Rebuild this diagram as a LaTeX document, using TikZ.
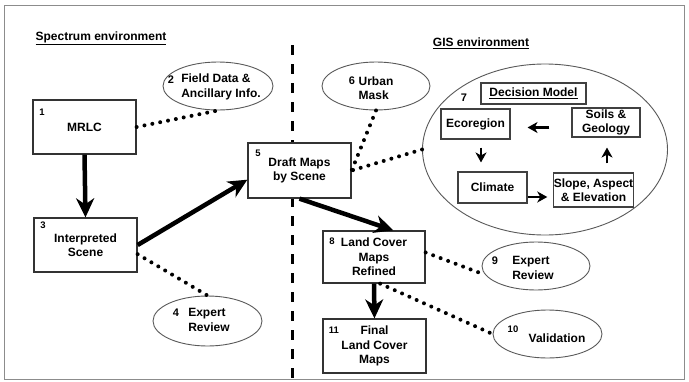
\documentclass[tikz,border=0pt]{standalone}
\usepackage{fontspec}
\setmainfont{Liberation Sans}
\usetikzlibrary{arrows.meta,shapes.geometric,calc}
\begin{document}
\begin{tikzpicture}[x=1pt,y=-1pt,
  font=\bfseries\fontsize{12}{14.5}\selectfont,
  box/.style={draw=black!80,line width=1.3pt,fill=white,inner sep=0pt,align=center},
  ibox/.style={draw=black!75,line width=1.1pt,fill=white,inner sep=0pt,align=center},
  oval/.style={ellipse,draw=black!65,line width=0.9pt,fill=white,inner sep=0pt},
  num/.style={font=\bfseries\fontsize{9.5}{10}\selectfont,inner sep=0pt},
  onum/.style={font=\bfseries\fontsize{11}{12}\selectfont,inner sep=0pt},
  txt/.style={inner sep=0pt,align=left},
  bigarr/.style={line width=4.5pt,-{Stealth[length=19pt,width=18pt,inset=6pt]}},
  smallarr/.style={line width=2.5pt,-{Stealth[length=10pt,width=11pt,inset=3pt]}},
  dots/.style={line width=4pt,line cap=round,dash pattern=on 0pt off 8pt},
  divider/.style={line width=2.8pt,dash pattern=on 10pt off 9pt},
]
\useasboundingbox (0,0) rectangle (689,381);
\draw[black!45,line width=1pt] (4,5) rectangle (684,379);

% headings
\node[inner sep=0pt] (hs) at (101,38) {\underline{Spectrum environment}};
\node[inner sep=0pt] (hg) at (481,43) {\underline{GIS environment}};

% divider
\coordinate (dtop) at (292.5,45);
\coordinate (dbot) at (292.5,381);
\draw[divider] (dtop) -- (dbot);

% boxes
\node[box,minimum width=103pt,minimum height=54pt] (mrlc) at (84.5,127) {MRLC};
\node[num] (n1) at (42,112) {1};
\node[box,minimum width=103pt,minimum height=54pt] (interp) at (85.5,245) {Interpreted\\Scene};
\node[num] (n3) at (43,225) {3};
\node[box,minimum width=103pt,minimum height=55pt] (draft) at (299.5,170.5) {Draft Maps\\by Scene};
\node[num] (n5) at (258,153) {5};
\node[box,minimum width=102pt,minimum height=52pt] (lc8) at (374,257) {Land Cover\\Maps\\Refined};
\node[num] (n8) at (332,241) {8};
\node[box,minimum width=103pt,minimum height=54pt] (fin) at (374.5,346) {Final\\Land Cover\\Maps};
\node[num] (n11) at (334,330) {11};

% ellipses
\node[oval,minimum width=110pt,minimum height=48pt] (e2) at (218,86) {};
\node[txt] (t2) at (221,87) {Field Data \&\\Ancillary Info.};
\node[onum] (n2) at (171,80) {2};

\node[oval,minimum width=109pt,minimum height=50pt] (e4) at (207.5,321) {};
\node[txt] (t4) at (209,320) {Expert\\Review};
\node[onum] (n4) at (176,313) {4};

\node[oval,minimum width=108pt,minimum height=48pt] (e6) at (376,86) {};
\node[txt] (t6) at (376,88) {Urban\\Mask};
\node[onum] (n6) at (352,81) {6};

\node[oval,minimum width=108pt,minimum height=48pt] (e9) at (536,266) {};
\node[txt] (t9) at (533,268) {Expert\\Review};
\node[onum] (n9) at (495,261) {9};

\node[oval,minimum width=109pt,minimum height=48pt] (e10) at (547.5,334) {};
\node[txt] (t10) at (557,338) {Validation};
\node[num] (n10) at (513,329) {10};

% decision model ellipse
\node[oval,minimum width=245pt,minimum height=171pt] (e7) at (545,149.5) {};
\node[onum] (n7) at (464,98) {7};
\node[ibox,minimum width=105pt,minimum height=21pt] (dm) at (533.5,93.5) {\underline{Decision Model}};
\node[ibox,minimum width=69pt,minimum height=30pt] (eco) at (475.5,124) {Ecoregion};
\node[ibox,minimum width=68pt,minimum height=29pt,font=\bfseries\fontsize{12}{14}\selectfont] (soils) at (606,122.5) {Soils \&\\Geology};
\node[ibox,minimum width=69pt,minimum height=31pt] (climate) at (492.5,187.5) {Climate};
\node[ibox,minimum width=79pt,minimum height=34pt,font=\bfseries\fontsize{12}{14}\selectfont] (slope) at (593.5,190) {Slope, Aspect\\\& Elevation};

% inner arrows
\draw[smallarr,shorten <=22pt,shorten >=17pt] ([yshift=-5pt]soils.west) -- ([yshift=-5pt]soils.west -| eco.east);
\draw[smallarr,shorten <=8pt,shorten >=9pt] ([xshift=5.5pt]eco.south) -- ([xshift=5.5pt]eco.south |- climate.north);
\draw[smallarr,shorten >=6pt] ([yshift=-9.5pt]climate.east) -- ([yshift=-9.5pt]climate.east -| slope.west);
\draw[smallarr,shorten <=9pt,shorten >=10pt] ([xshift=1pt]soils.south |- slope.north) -- ([xshift=1pt]soils.south);

% main arrows
\draw[bigarr] (mrlc.south) -- (interp.north);
\draw[bigarr] (interp.east) -- (draft.190);
\draw[bigarr] (draft.south) -- (lc8.54);
\draw[bigarr] (lc8.south) -- (fin.north);

% dotted links
\draw[dots] (mrlc.east) -- (e2.south);
\draw[dots] (interp.-10) -- (e4.north);
\draw[dots] (e6.south) -- (draft.east);
\draw[dots] (e7.west) -- (draft.east);
\draw[dots] (lc8.5) -- (e9.190);
\draw[dots] (lc8.-77) -- (e10.west);
\end{tikzpicture}
\end{document}
